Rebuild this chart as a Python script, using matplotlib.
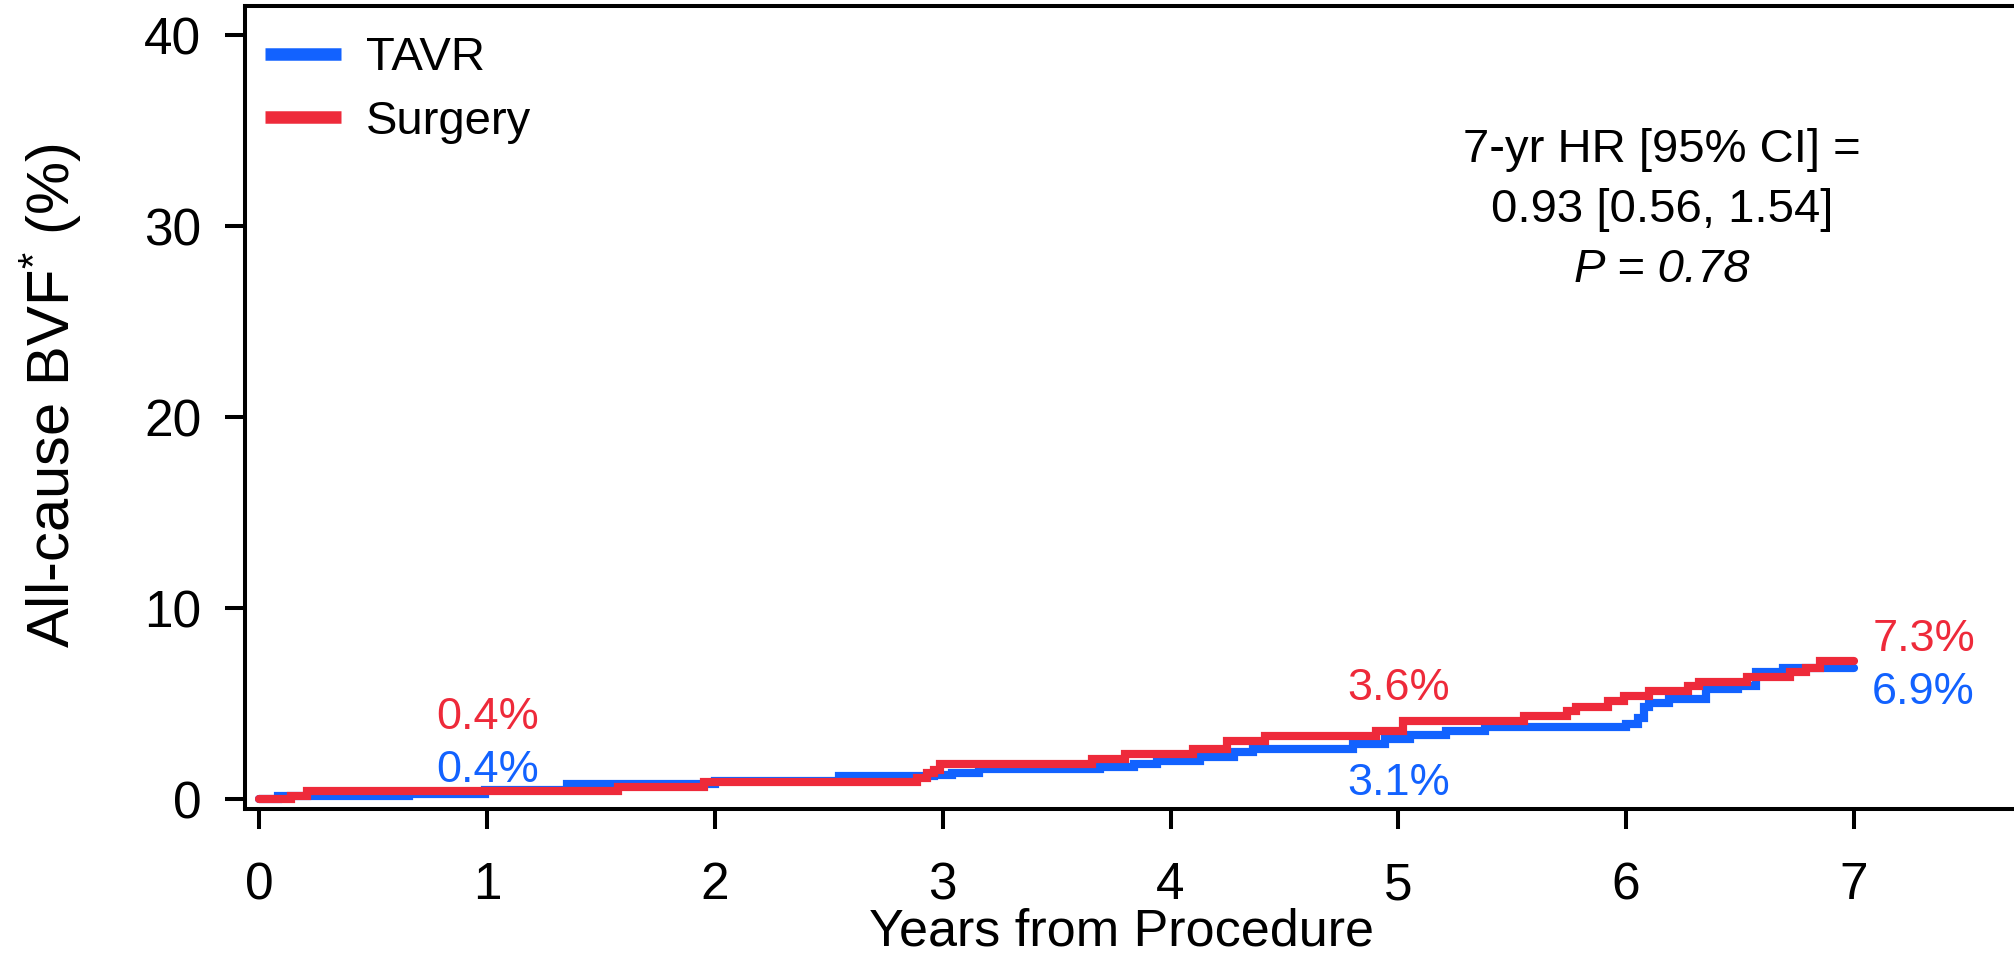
import matplotlib
matplotlib.use("Agg")
import matplotlib.pyplot as plt
from matplotlib.lines import Line2D

# ---------------- data ----------------
tavr_t = [0, 0.08, 0.655, 0.99, 1.35, 2.00, 2.545, 2.96, 3.04, 3.16, 3.69, 3.84, 3.94,
          4.13, 4.28, 4.36, 4.80, 4.94, 5.05, 5.21, 5.38, 6.00, 6.05, 6.08, 6.10, 6.19,
          6.35, 6.49, 6.57, 6.69, 7.0]
tavr_v = [0, 0.2, 0.3, 0.5, 0.78, 0.95, 1.22, 1.3, 1.4, 1.57, 1.7, 1.84, 2.03,
          2.2, 2.47, 2.63, 2.9, 3.15, 3.39, 3.6, 3.8, 3.95, 4.28, 4.84, 5.04, 5.27,
          5.78, 5.95, 6.66, 6.88, 6.88]

surg_t = [0, 0.138, 0.21, 1.576, 1.95, 2.886, 2.93, 2.96, 2.99, 3.655, 3.80, 4.10,
          4.25, 4.415, 4.90, 5.02, 5.55, 5.74, 5.78, 5.92, 5.99, 6.10, 6.27, 6.32,
          6.53, 6.72, 6.79, 6.85, 7.0]
surg_v = [0, 0.17, 0.45, 0.66, 0.9, 1.1, 1.39, 1.56, 1.84, 2.1, 2.37, 2.63,
          3.05, 3.33, 3.6, 4.1, 4.36, 4.64, 4.85, 5.16, 5.39, 5.65, 5.93, 6.15,
          6.41, 6.68, 6.9, 7.22, 7.22]

series_names = ["TAVR", "Surgery"]
x_ticks = [0, 1, 2, 3, 4, 5, 6, 7]
y_ticks = [0, 10, 20, 30, 40]

# rate labels: (x, y, text)
tavr_labels = [(1.0, 0.92, "0.4%"), (5.0, 0.23, "3.1%"), (7.08, 4.98, "6.9%")]
surg_labels = [(1.0, 3.70, "0.4%"), (5.0, 5.2, "3.6%"), (7.08, 7.75, "7.3%")]

stat_lines = ["7-yr HR [95% CI] =", "0.93 [0.56, 1.54]", "P = 0.78"]

# ---------------- style ----------------
BLUE = "#1262FF"
RED = "#EE2A3A"
plt.rcParams["font.family"] = ["Liberation Sans", "DejaVu Sans"]
plt.rcParams["mathtext.fontset"] = "custom"
plt.rcParams["mathtext.rm"] = "Liberation Sans"
plt.rcParams["mathtext.it"] = "Liberation Sans:italic"

W, H = 2015, 956
fig = plt.figure(figsize=(W / 100, H / 100), dpi=100)
ax = fig.add_axes([245 / W, 1 - 809.3 / H, 1 - 245 / W, (809.3 - 6) / H])

ax.plot(tavr_t, tavr_v, drawstyle="steps-post", color=BLUE, lw=5.9,
        solid_capstyle="round", solid_joinstyle="miter", zorder=3)
ax.plot(surg_t, surg_v, drawstyle="steps-post", color=RED, lw=5.9,
        solid_capstyle="round", solid_joinstyle="miter", zorder=4)

ax.set_xlim(-0.063, 7.707)
ax.set_ylim(-0.52, 41.53)
ax.set_xticks(x_ticks)
ax.set_yticks(y_ticks)
ax.tick_params(axis="both", direction="out", length=14.4, width=2.9,
               labelsize=37, color="black")
ax.tick_params(axis="x", pad=23)
ax.tick_params(axis="y", pad=17)
for s in ["left", "bottom", "top"]:
    ax.spines[s].set_linewidth(2.9)
ax.spines["right"].set_visible(False)

for x, y, s in tavr_labels:
    ha = "left" if x > 7 else "center"
    ax.text(x, y, s, color=BLUE, fontsize=32.5, ha=ha, va="baseline")
for x, y, s in surg_labels:
    ha = "left" if x > 7 else "center"
    ax.text(x, y, s, color=RED, fontsize=32.5, ha=ha, va="baseline")

stat_y = [33.38, 30.24, 27.1]
for i, (s, y) in enumerate(zip(stat_lines, stat_y)):
    ax.text(6.158, y, s, fontsize=34, ha="center", va="baseline",
            fontstyle="italic" if i == 2 else "normal")

handles = [Line2D([], [], color=BLUE, lw=9, solid_capstyle="butt"),
           Line2D([], [], color=RED, lw=9, solid_capstyle="butt")]
ax.legend(handles, series_names, loc="upper left",
          bbox_to_anchor=(265 / W, 1 - 36.5 / H), bbox_transform=fig.transFigure,
          frameon=False, fontsize=34, handlelength=1.61, handletextpad=0.53,
          labelspacing=0.41, borderpad=0, borderaxespad=0)

fig.text(1122 / W, 1 - 945.5 / H, "Years from Procedure", fontsize=37.5,
         ha="center", va="baseline")
fig.text(51 / W, 1 - 396 / H, "All-cause BVF$^{*}$ (%)", fontsize=43,
         ha="center", va="center", rotation=90)

fig.savefig("out.png", dpi=100)
